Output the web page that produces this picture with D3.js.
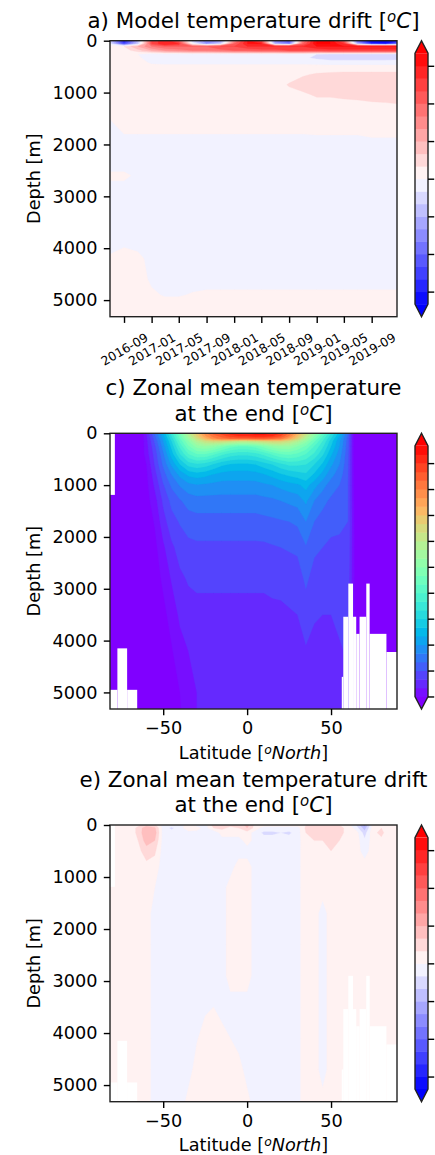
<!DOCTYPE html>
<html lang="en">
<head>
<meta charset="UTF-8">
<title>Model temperature drift</title>
<script src="https://cdn.jsdelivr.net/npm/d3@7"></script>
<style>
  body { margin: 0; background: #fff; }
  svg { display: block; font-family: "DejaVu Sans", sans-serif; }
  .axis text { font-size: 17.7px; fill: #000; font-family: "DejaVu Sans", sans-serif; }
  .axis line { stroke: #000; stroke-width: 1.4px; }
</style>
</head>
<body>
<script>
// ---------------- data ----------------
const depthTicks = [0, 1000, 2000, 3000, 4000, 5000];
const latTicks = [-50, 0, 50];
const dateTicks = ["2016-09-01", "2017-01-01", "2017-05-01", "2017-09-01", "2018-01-01",
                   "2018-05-01", "2018-09-01", "2019-01-01", "2019-05-01", "2019-09-01"];
const dateRange = ["2016-07-01", "2019-12-22"];
const latRange = [-81.7, 89.3];
const depthMax = 5320;

// contour levels and colorbar ticks
const driftLevels = [-1, -0.9, -0.8, -0.7, -0.6, -0.5, -0.4, -0.3, -0.2, -0.1, 0,
                     0.1, 0.2, 0.3, 0.4, 0.5, 0.6, 0.7, 0.8, 0.9, 1];
const driftCbTicks = [-0.9, -0.6, -0.3, 0, 0.3, 0.6, 0.9];
const tempLevels = [0, 1, 2, 3, 4, 5, 6, 7, 8, 9, 10, 11, 12, 13, 14, 15, 16, 17, 18, 19,
                    20, 21, 22, 23, 24, 25, 26, 27, 28, 29];
const tempCbTicks = [0, 3, 6, 9, 12, 15, 18, 21, 24, 27];

// a) drift vs time and depth
const driftTimes = ["2016-07-01", "2016-09-01", "2016-11-01", "2017-01-01", "2017-03-01", "2017-05-01",
                    "2017-07-01", "2017-09-01", "2017-11-01", "2018-01-01", "2018-03-01", "2018-05-01",
                    "2018-07-01", "2018-09-01", "2018-11-01", "2019-01-01", "2019-03-01", "2019-05-01",
                    "2019-07-01", "2019-09-01", "2019-11-01", "2019-12-22"];
const driftDepths = [0, 60, 110, 190, 260, 330, 420, 520, 650, 850, 1050, 1300, 1600, 2000,
                     2450, 2600, 2800, 3300, 3900, 4200, 4600, 4900, 5100, 5320];
const driftValues = [
  [-0.2,-0.9,-0.3,0.7,0.9,0.6,-0.2,-0.5,-0.4,0.4,0.9,0.7,-0.5,-0.7,0.5,1.0,1.0,0.6,-0.6,-1.1,-1.1,-0.9],
  [-0.1,-0.7,-0.2,0.7,0.9,0.8,0.0,-0.4,-0.2,0.6,0.9,0.9,-0.3,-0.5,0.6,1.0,1.0,0.8,-0.3,-0.8,-0.9,-0.6],
  [0.05,0.1,0.3,0.5,0.6,0.6,0.6,0.6,0.7,0.7,0.8,0.8,0.8,0.8,0.8,0.9,0.9,0.9,0.9,0.9,0.9,0.9],
  [0.05,0.05,0.15,0.3,0.4,0.45,0.5,0.5,0.55,0.6,0.6,0.65,0.65,0.7,0.7,0.7,0.75,0.75,0.75,0.75,0.75,0.75],
  [0.05,0.05,0.0,-0.06,-0.06,-0.06,-0.06,-0.06,-0.06,-0.06,-0.06,-0.06,-0.06,-0.06,-0.06,-0.1,-0.12,-0.12,-0.12,-0.12,-0.12,-0.12],
  [0.05,0.05,0.02,-0.06,-0.06,-0.06,-0.06,-0.06,-0.06,-0.06,-0.06,-0.06,-0.06,-0.06,-0.08,-0.12,-0.15,-0.15,-0.15,-0.15,-0.15,-0.14],
  [0.05,0.05,0.05,-0.02,-0.03,-0.03,-0.03,-0.03,-0.03,-0.03,-0.03,-0.03,-0.03,-0.03,-0.03,-0.04,-0.05,-0.05,-0.05,-0.05,-0.05,-0.05],
  [0.05,0.05,0.05,0.05,0.05,0.05,0.05,0.05,0.05,0.05,0.05,0.05,0.05,0.05,0.05,0.05,0.05,0.05,0.05,0.05,0.05,0.05],
  [0.05,0.05,0.05,0.05,0.05,0.05,0.05,0.05,0.05,0.05,0.05,0.05,0.05,0.05,0.09,0.11,0.12,0.13,0.13,0.13,0.13,0.13],
  [0.05,0.05,0.05,0.05,0.05,0.05,0.05,0.05,0.05,0.05,0.05,0.05,0.05,0.11,0.14,0.15,0.15,0.15,0.15,0.15,0.15,0.15],
  [0.05,0.05,0.05,0.05,0.05,0.05,0.05,0.05,0.05,0.05,0.05,0.05,0.05,0.06,0.08,0.11,0.11,0.12,0.13,0.14,0.14,0.14],
  [0.05,0.05,0.05,0.05,0.05,0.05,0.05,0.05,0.05,0.05,0.05,0.05,0.05,0.05,0.05,0.05,0.05,0.05,0.05,0.06,0.07,0.08],
  [-0.02,0.05,0.05,0.05,0.05,0.05,0.05,0.05,0.05,0.05,0.05,0.05,0.05,0.05,0.05,0.06,0.06,0.06,0.06,0.06,0.06,0.06],
  [-0.05,-0.05,-0.05,-0.05,-0.05,-0.05,-0.05,-0.05,-0.05,-0.05,-0.05,-0.05,-0.05,-0.05,-0.05,-0.05,-0.05,-0.05,-0.05,-0.03,-0.03,-0.03],
  [-0.05,-0.05,-0.05,-0.05,-0.05,-0.05,-0.05,-0.05,-0.05,-0.05,-0.05,-0.05,-0.05,-0.05,-0.05,-0.05,-0.05,-0.05,-0.05,-0.05,-0.05,-0.05],
  [0.05,0.05,-0.05,-0.05,-0.05,-0.05,-0.05,-0.05,-0.05,-0.05,-0.05,-0.05,-0.05,-0.05,-0.05,-0.05,-0.05,-0.05,-0.05,-0.05,-0.05,-0.05],
  [-0.05,-0.05,-0.05,-0.05,-0.05,-0.05,-0.05,-0.05,-0.05,-0.05,-0.05,-0.05,-0.05,-0.05,-0.05,-0.05,-0.05,-0.05,-0.05,-0.05,-0.05,-0.05],
  [-0.05,-0.05,-0.05,-0.05,-0.05,-0.05,-0.05,-0.05,-0.05,-0.05,-0.05,-0.05,-0.05,-0.05,-0.05,-0.05,-0.05,-0.05,-0.05,-0.05,-0.05,-0.05],
  [-0.05,-0.02,-0.05,-0.05,-0.05,-0.05,-0.05,-0.05,-0.05,-0.05,-0.05,-0.05,-0.05,-0.05,-0.05,-0.05,-0.05,-0.05,-0.05,-0.05,-0.05,-0.05],
  [0.02,0.05,0.04,-0.05,-0.05,-0.05,-0.05,-0.05,-0.05,-0.05,-0.05,-0.05,-0.05,-0.05,-0.05,-0.05,-0.05,-0.05,-0.05,-0.05,-0.05,-0.05],
  [0.05,0.05,0.05,-0.02,-0.05,-0.05,-0.05,-0.05,-0.05,-0.05,-0.05,-0.05,-0.05,-0.05,-0.05,-0.05,-0.05,-0.05,-0.05,-0.05,-0.05,-0.05],
  [0.05,0.05,0.05,0.02,-0.01,-0.01,0.01,0.025,0.025,0.025,0.025,0.025,0.025,0.025,0.025,0.025,0.025,0.025,0.025,0.025,0.025,0.025],
  [0.05,0.05,0.05,0.05,0.05,0.05,0.05,0.05,0.05,0.05,0.05,0.05,0.05,0.05,0.05,0.05,0.05,0.05,0.05,0.05,0.05,0.05],
  [0.05,0.05,0.05,0.05,0.05,0.05,0.05,0.05,0.05,0.05,0.05,0.05,0.05,0.05,0.05,0.05,0.05,0.05,0.05,0.05,0.05,0.05]
];

// c) zonal mean temperature at the end
const zonalLats = [-80, -75, -70, -65, -60, -55, -50, -45, -40, -35, -30, -25, -20, -15, -10, -5, 0,
                   5, 10, 15, 20, 25, 30, 35, 40, 45, 50, 55, 60, 65, 70, 75, 80, 85, 90];
const tempDepths = [0, 50, 100, 150, 250, 400, 600, 800, 1000, 1300, 1700, 2200, 2800, 3500, 4200, 5000, 5400];
const zonalTemp = [
  [-1.8,-1.7,-1.6,-1.5,1.0,4.0,7.0,10.5,14.0,17.5,20.5,23.5,25.5,26.5,27.5,28.0,28.0,28.5,28.5,28.0,27.0,24.8,22.0,19.0,16.0,13.0,10.0,7.5,4.0,-1.5,-1.6,-1.7,-1.7,-1.8,-1.8],
  [-1.8,-1.7,-1.6,-1.5,0.9,3.8,6.7,10.0,13.5,17.0,20.0,22.8,24.5,25.5,26.5,27.0,27.0,27.5,27.5,27.0,26.0,24.0,21.0,18.0,15.0,12.2,9.5,7.0,3.8,-1.5,-1.6,-1.7,-1.7,-1.8,-1.8],
  [-1.8,-1.7,-1.6,-1.5,0.8,3.5,6.3,9.5,13.0,16.0,19.0,21.5,23.5,24.5,25.0,25.3,25.3,25.5,25.5,25.0,24.5,22.5,20.0,17.0,14.2,11.5,9.0,6.5,3.6,-1.5,-1.6,-1.7,-1.7,-1.8,-1.8],
  [-1.8,-1.7,-1.6,-1.5,0.7,3.2,6.0,9.0,12.3,15.0,17.5,19.0,19.5,19.5,19.0,18.5,18.5,19.0,19.5,20.0,20.0,19.0,17.5,15.5,13.2,11.0,8.5,6.2,3.5,-1.5,-1.6,-1.7,-1.7,-1.8,-1.8],
  [-1.8,-1.7,-1.6,-1.4,0.6,2.8,5.5,8.3,11.3,13.8,15.5,16.0,15.5,14.5,13.5,13.0,13.0,13.5,14.5,15.5,16.0,16.0,15.0,13.8,12.0,10.2,8.0,6.0,3.4,-1.5,-1.6,-1.7,-1.7,-1.8,-1.8],
  [-1.8,-1.7,-1.5,-1.3,0.5,2.4,4.8,7.5,10.0,12.0,13.0,13.0,12.2,11.3,10.6,10.3,10.3,10.6,11.3,12.2,13.0,13.2,12.8,12.0,10.8,9.2,7.2,5.5,3.3,-1.5,-1.5,-1.6,-1.7,-1.8,-1.8],
  [-1.8,-1.7,-1.4,-1.2,0.0,2.1,4.2,6.2,8.0,9.4,9.8,9.5,8.9,8.2,7.9,7.8,7.8,8.0,8.5,9.0,9.7,10.2,10.2,10.0,9.0,7.8,6.2,5.0,3.2,-1.4,-1.4,-1.5,-1.6,-1.7,-1.7],
  [-1.8,-1.7,-1.3,-1.1,-0.2,1.6,3.5,5.0,6.3,7.2,7.5,7.3,6.9,6.6,6.5,6.5,6.5,6.6,6.9,7.3,7.8,8.2,8.5,8.8,7.8,6.6,5.3,4.5,3.1,-1.3,-1.3,-1.4,-1.5,-1.6,-1.6],
  [-1.7,-1.6,-1.2,-1.0,-0.3,1.2,2.9,4.2,5.1,5.7,5.9,5.8,5.7,5.6,5.6,5.6,5.6,5.6,5.8,6.0,6.3,6.6,6.8,7.4,6.4,5.4,4.5,4.0,3.0,-1.2,-1.2,-1.3,-1.4,-1.5,-1.5],
  [-1.6,-1.5,-1.1,-0.9,-0.4,0.6,2.2,3.3,3.9,4.4,4.6,4.6,4.6,4.6,4.6,4.6,4.6,4.6,4.7,4.8,5.0,5.2,5.4,6.2,5.0,4.3,3.8,3.6,3.0,-1.1,-1.1,-1.2,-1.3,-1.4,-1.4],
  [-1.5,-1.4,-1.0,-0.8,-0.6,0.1,1.6,2.6,3.1,3.5,3.6,3.6,3.6,3.6,3.6,3.6,3.6,3.6,3.7,3.8,3.9,4.0,4.2,5.0,4.0,3.6,3.3,3.2,3.0,-1.0,-1.0,-1.0,-1.1,-1.2,-1.2],
  [-1.4,-1.3,-1.0,-0.7,-0.5,-0.3,0.8,1.8,2.4,2.7,2.8,2.8,2.8,2.8,2.8,2.8,2.8,2.8,2.8,2.9,3.0,3.1,3.2,3.9,3.2,3.0,2.8,2.8,2.8,-0.9,-0.9,-0.9,-1.0,-1.0,-1.0],
  [-1.3,-1.2,-0.9,-0.7,-0.6,-0.5,0.2,1.1,1.8,2.1,2.2,2.2,2.2,2.2,2.2,2.2,2.2,2.2,2.2,2.3,2.3,2.4,2.5,3.2,2.6,2.4,2.3,2.5,2.6,-0.8,-0.8,-0.8,-0.9,-0.9,-0.9],
  [-1.2,-1.1,-0.8,-0.7,-0.6,-0.5,-0.3,0.4,1.2,1.6,1.7,1.7,1.7,1.7,1.7,1.7,1.7,1.7,1.7,1.75,1.8,1.9,2.0,2.5,2.1,2.0,2.0,2.2,2.4,-0.7,-0.7,-0.7,-0.8,-0.8,-0.8],
  [-1.1,-1.0,-0.8,-0.7,-0.6,-0.5,-0.4,-0.1,0.6,1.0,1.2,1.2,1.2,1.2,1.2,1.2,1.2,1.25,1.3,1.35,1.4,1.5,1.6,1.9,1.7,1.6,1.7,1.9,2.1,-0.6,-0.6,-0.7,-0.7,-0.7,-0.7],
  [-1.0,-0.9,-0.8,-0.7,-0.6,-0.5,-0.4,-0.3,0.0,0.6,1.0,1.1,1.1,1.1,1.1,1.1,1.1,1.1,1.15,1.2,1.25,1.3,1.4,1.6,1.5,1.5,1.6,1.8,2.0,-0.6,-0.6,-0.6,-0.6,-0.6,-0.6],
  [-1.0,-0.9,-0.8,-0.7,-0.6,-0.5,-0.4,-0.3,-0.1,0.5,1.0,1.1,1.1,1.1,1.1,1.1,1.1,1.1,1.15,1.2,1.25,1.3,1.4,1.6,1.5,1.5,1.6,1.8,2.0,-0.6,-0.6,-0.6,-0.6,-0.6,-0.6]
];

// e) zonal mean temperature drift at the end
const zDriftDepths = [0, 60, 150, 300, 500, 800, 1200, 1700, 2300, 2900, 3500, 4100, 4700, 5400];
const zonalDrift = [
  [0.05,0.05,0.05,0.08,0.15,0.12,-0.05,-0.05,-0.05,0.05,-0.05,-0.05,0.15,0.2,0.12,0.1,0.25,0.05,0.05,0.05,0.05,0.05,0.05,0.1,0.12,0.1,0.12,0.1,0.05,-0.1,-0.35,0.05,0.05,0.05,0.05],
  [0.05,0.05,0.05,0.12,0.28,0.22,-0.05,-0.12,-0.05,0.08,0.05,-0.05,0.1,0.12,0.08,0.1,0.2,0.05,-0.05,-0.05,-0.05,-0.05,-0.05,0.12,0.15,0.15,0.15,0.12,0.08,-0.05,-0.25,0.06,0.1,0.05,0.05],
  [0.05,0.05,0.05,0.12,0.3,0.25,-0.05,-0.05,-0.05,-0.05,-0.05,-0.05,-0.1,0.05,0.05,0.05,0.05,-0.05,-0.12,-0.12,-0.1,-0.12,-0.05,0.1,0.12,0.12,0.15,0.12,0.08,0.05,-0.15,0.08,0.12,0.05,0.05],
  [0.05,0.05,0.05,0.1,0.25,0.2,-0.05,-0.05,-0.05,-0.05,-0.05,-0.05,-0.05,-0.05,-0.05,-0.05,0.05,-0.05,-0.05,-0.05,-0.05,-0.05,-0.05,0.08,0.1,0.1,0.12,0.1,0.05,0.05,-0.08,0.05,0.08,0.05,0.05],
  [0.05,0.05,0.05,0.07,0.15,0.12,-0.05,-0.05,-0.05,-0.05,-0.05,-0.05,-0.05,-0.05,-0.05,-0.05,-0.05,-0.05,-0.05,-0.05,-0.05,-0.05,-0.03,0.05,0.06,0.08,0.1,0.08,0.05,0.05,-0.05,0.05,0.05,0.05,0.05],
  [0.05,0.05,0.05,0.05,0.07,0.05,-0.05,-0.05,-0.05,-0.05,-0.05,-0.05,-0.05,-0.05,-0.05,0.05,0.05,-0.05,-0.05,-0.05,-0.05,-0.05,-0.03,0.05,0.05,0.05,0.06,0.05,0.05,0.05,0.05,0.05,0.05,0.05,0.05],
  [0.05,0.05,0.05,0.05,0.05,0.0,-0.05,-0.05,-0.05,-0.05,-0.05,-0.05,-0.05,-0.05,0.05,0.05,0.05,-0.05,-0.05,-0.05,-0.05,-0.05,-0.03,0.05,0.05,0.05,0.05,0.05,0.05,0.05,0.05,0.05,0.05,0.05,0.05],
  [0.05,0.05,0.05,0.05,0.05,-0.05,-0.05,-0.05,-0.05,-0.05,-0.05,-0.05,-0.05,-0.05,0.05,0.05,0.05,-0.05,-0.05,-0.05,-0.05,-0.05,-0.03,0.05,0.05,-0.05,0.05,0.05,0.05,0.05,0.05,0.05,0.05,0.05,0.05],
  [0.05,0.05,0.05,0.05,0.05,-0.05,-0.05,-0.05,-0.05,-0.05,-0.05,-0.05,-0.05,-0.05,0.05,0.05,0.05,-0.05,-0.05,-0.05,-0.05,-0.05,-0.03,0.05,0.05,-0.05,0.05,0.05,0.05,0.05,0.05,0.05,0.05,0.05,0.05],
  [0.05,0.05,0.05,0.05,0.05,-0.05,-0.05,-0.05,-0.05,-0.05,-0.05,-0.05,-0.05,-0.05,0.05,0.05,0.05,-0.05,-0.05,-0.05,-0.05,-0.05,-0.03,0.05,0.05,-0.05,0.05,0.05,0.05,0.05,0.05,0.05,0.05,0.05,0.05],
  [0.05,0.05,0.05,0.05,0.05,-0.05,-0.05,-0.05,-0.05,-0.05,-0.05,-0.02,0.0,-0.05,-0.05,-0.05,-0.05,-0.05,-0.05,-0.05,-0.05,-0.05,-0.03,0.05,0.05,-0.05,0.05,0.05,0.05,0.05,0.05,0.05,0.05,0.05,0.05],
  [0.05,0.05,0.05,0.05,0.05,-0.05,-0.05,-0.05,-0.05,-0.05,-0.01,0.05,0.05,0.05,0.0,-0.05,-0.05,-0.05,-0.05,-0.05,-0.05,-0.05,-0.03,0.05,0.05,-0.05,0.05,0.05,0.05,0.05,0.05,0.05,0.05,0.05,0.05],
  [0.05,0.05,0.05,0.05,0.05,-0.05,-0.05,-0.05,-0.05,-0.05,0.05,0.05,0.05,0.05,0.05,0.05,-0.05,-0.05,-0.05,-0.05,-0.05,-0.05,-0.03,0.05,0.05,-0.05,0.05,0.05,0.05,0.05,0.05,0.05,0.05,0.05,0.05],
  [0.05,0.05,0.05,0.05,0.05,-0.05,-0.05,-0.05,-0.05,0.05,0.05,0.05,0.05,0.05,0.05,0.05,0.05,-0.05,-0.05,-0.05,-0.05,-0.05,-0.03,0.05,0.05,0.05,0.05,0.05,0.05,0.05,0.05,0.05,0.05,0.05,0.05]
];

// no-ocean (masked) boxes for the zonal sections
const landLat0 = [-81.7, -81.7, -77.3, -71.5, 56.4, 57.3, 60.3, 63.1, 65, 67, 71, 73, 83];
const landLat1 = [-78.8, -77.3, -71.5, -65.5, 57.3, 60.3, 63.1, 65, 67, 71, 73, 83, 89.3];
const landTop = [0, 4950, 4150, 4950, 4700, 3540, 2900, 3540, 3870, 3540, 2900, 3870, 4220];
const landBottom = [1150, 5320, 5320, 5320, 5320, 5320, 5320, 5320, 5320, 5320, 5320, 5320, 5320];

// ---------------- layout ----------------
const W = 435, H = 1155;
const plotL = 110, plotR = 397, midX = 253.5;
const cbX = 415, cbW = 13;
const titleSize = 21.4, labelSize = 17.7, tickSize = 6.2, tickPad = 6.2;

const svg = d3.select("body").append("svg").attr("width", W).attr("height", H);

const bwr = d3.scaleLinear().domain([-1, 0, 1]).range(["#0000ff", "#ffffff", "#ff0000"]);
const rainbowInterp = t => d3.rgb(255 * Math.min(1, Math.abs(2 * t - 0.5)),
                                  255 * Math.sin(Math.PI * t),
                                  255 * Math.cos(Math.PI * t / 2)).toString();
const rainbow = d3.scaleSequential(rainbowInterp).domain([0, 29]);

// text like "prefix [°unit]" with an italic superscript o; optional first line above it
function unitText(x, y, size, prefix, unit, firstLine) {
  const t = svg.append("text").attr("x", x).attr("y", y).attr("text-anchor", "middle")
    .attr("font-size", size).attr("fill", "#000");
  if (firstLine) {
    t.append("tspan").attr("x", x).text(firstLine);
    t.append("tspan").attr("x", x).attr("dy", 25.6).text(prefix);
  } else {
    t.append("tspan").text(prefix);
  }
  t.append("tspan").attr("font-style", "italic").attr("font-size", size * 0.7)
    .attr("dy", -size * 0.28).text("o");
  t.append("tspan").attr("font-style", "italic").attr("dy", size * 0.28).text(unit);
  t.append("tspan").text("]");
  return t;
}

function contourField(id, xsPx, ysPx, grid, levels, layerColor, over, under, top, bottom) {
  svg.append("clipPath").attr("id", id).append("rect")
    .attr("x", plotL).attr("y", top).attr("width", plotR - plotL).attr("height", bottom - top);
  const layer = svg.append("g").attr("clip-path", `url(#${id})`);
  const n = xsPx.length, m = ysPx.length;
  const fx = d3.scaleLinear().domain(d3.range(n).map(i => i + 0.5)).range(xsPx);
  const fy = d3.scaleLinear().domain(d3.range(m).map(j => j + 0.5)).range(ysPx);
  const path = d3.geoPath(d3.geoTransform({
    point(px, py) { this.stream.point(fx(px), fy(py)); }
  }));
  const cs = d3.contours().size([n, m]).thresholds(levels)(grid.flat());
  layer.append("rect").attr("x", plotL).attr("y", top)
    .attr("width", plotR - plotL).attr("height", bottom - top).attr("fill", under);
  layer.selectAll("path").data(cs).join("path")
    .attr("d", path)
    .attr("fill", (d, i) => i < levels.length - 1 ? layerColor(i) : over)
    .attr("stroke", (d, i) => i < levels.length - 1 ? layerColor(i) : over)
    .attr("stroke-width", 0.3);
  return layer;
}

function colorbar(top, bottom, levels, layerColor, over, under, ticks) {
  const inner = (bottom - top) / 1.1, ext = inner * 0.05;
  const y0 = bottom - ext, y1 = top + ext;
  const cs = d3.scaleLinear().domain([levels[0], levels[levels.length - 1]]).range([y0, y1]);
  const g = svg.append("g");
  g.selectAll("rect").data(levels.slice(0, -1)).join("rect")
    .attr("x", cbX).attr("width", cbW)
    .attr("y", (d, i) => cs(levels[i + 1]))
    .attr("height", (d, i) => cs(levels[i]) - cs(levels[i + 1]) + 0.5)
    .attr("fill", (d, i) => layerColor(i));
  g.append("path").attr("d", `M${cbX},${y1}L${cbX + cbW / 2},${top}L${cbX + cbW},${y1}Z`).attr("fill", over);
  g.append("path").attr("d", `M${cbX},${y0}L${cbX + cbW / 2},${bottom}L${cbX + cbW},${y0}Z`).attr("fill", under);
  g.append("path")
    .attr("d", `M${cbX},${y1}L${cbX + cbW / 2},${top}L${cbX + cbW},${y1}L${cbX + cbW},${y0}` +
               `L${cbX + cbW / 2},${bottom}L${cbX},${y0}Z`)
    .attr("fill", "none").attr("stroke", "#222").attr("stroke-width", 1.4);
  const ax = g.append("g").attr("class", "axis").attr("transform", `translate(${cbX + cbW},0)`)
    .call(d3.axisRight(cs).tickValues(ticks).tickSize(tickSize).tickFormat(""));
  ax.select(".domain").remove();
}

function depthAxis(y, top, bottom) {
  const ax = svg.append("g").attr("class", "axis").attr("transform", `translate(${plotL},0)`)
    .call(d3.axisLeft(y).tickValues(depthTicks).tickFormat(d3.format("d"))
      .tickSize(tickSize).tickPadding(tickPad));
  ax.attr("font-size", null).attr("font-family", null);
  ax.select(".domain").remove();
  svg.append("text").attr("transform", `translate(34,${(top + bottom) / 2}) rotate(-90)`)
    .attr("text-anchor", "middle").attr("dy", "0.35em").attr("font-size", labelSize).text("Depth [m]");
}

function frame(top, bottom) {
  svg.append("rect").attr("x", plotL).attr("y", top).attr("width", plotR - plotL)
    .attr("height", bottom - top).attr("fill", "none").attr("stroke", "#222").attr("stroke-width", 1.4);
}

const driftColor = levels => i => bwr((levels[i] + levels[i + 1]) / 2);
const tempColor = levels => i => rainbow((levels[i] + levels[i + 1]) / 2);

// ---------------- panel a ----------------
{
  const top = 40.7, bottom = 316.7;
  const x = d3.scaleTime().domain(dateRange.map(d => new Date(d))).range([plotL, plotR]);
  const y = d3.scaleLinear().domain([0, depthMax]).range([top, bottom]);
  contourField("clipA", driftTimes.map(d => x(new Date(d))), driftDepths.map(y),
    driftValues, driftLevels, driftColor(driftLevels), "#ff0000", "#0000ff", top, bottom);
  frame(top, bottom);
  depthAxis(y, top, bottom);
  const ax = svg.append("g").attr("class", "axis").attr("transform", `translate(0,${bottom})`)
    .call(d3.axisBottom(x).tickValues(dateTicks.map(d => new Date(d)))
      .tickFormat(d3.timeFormat("%Y-%m")).tickSize(tickSize));
  ax.attr("font-size", null).attr("font-family", null);
  ax.select(".domain").remove();
  ax.selectAll("text").attr("y", 0).attr("dy", "0.35em").attr("text-anchor", "middle")
    .attr("transform", "translate(0,32.5) rotate(-30)").style("font-size", "12.4px");
  colorbar(top, bottom, driftLevels, driftColor(driftLevels), "#ff0000", "#0000ff", driftCbTicks);
  unitText(midX, 28, titleSize, "a) Model temperature drift [", "C");
}

function latPanel(top, bottom, depths, grid, levels, layerColor, over, under, clipId, titleLine, cbTicks) {
  const x = d3.scaleLinear().domain(latRange).range([plotL, plotR]);
  const y = d3.scaleLinear().domain([0, depthMax]).range([top, bottom]);
  const layer = contourField(clipId, zonalLats.map(x), depths.map(y),
    grid, levels, layerColor, over, under, top, bottom);
  layer.selectAll("rect.land").data(landLat0).join("rect").attr("class", "land")
    .attr("x", (d, i) => x(landLat0[i])).attr("width", (d, i) => x(landLat1[i]) - x(landLat0[i]))
    .attr("y", (d, i) => y(landTop[i])).attr("height", (d, i) => y(landBottom[i]) - y(landTop[i]) + 2)
    .attr("fill", "#ffffff");
  frame(top, bottom);
  depthAxis(y, top, bottom);
  const ax = svg.append("g").attr("class", "axis").attr("transform", `translate(0,${bottom})`)
    .call(d3.axisBottom(x).tickValues(latTicks).tickSize(tickSize).tickPadding(tickPad));
  ax.attr("font-size", null).attr("font-family", null);
  ax.select(".domain").remove();
  unitText(midX, bottom + 49.5, labelSize, "Latitude [", "North");
  colorbar(top, bottom, levels, layerColor, over, under, cbTicks);
  unitText(midX, top - 38.4, titleSize, "at the end [", "C", titleLine);
}

// ---------------- panel c ----------------
latPanel(433.3, 709, tempDepths, zonalTemp, tempLevels, tempColor(tempLevels), rainbow(29), rainbow(0),
  "clipC", "c) Zonal mean temperature", tempCbTicks);

// ---------------- panel e ----------------
latPanel(825, 1101.7, zDriftDepths, zonalDrift, driftLevels, driftColor(driftLevels), "#ff0000", "#0000ff",
  "clipE", "e) Zonal mean temperature drift", driftCbTicks);
</script>
</body>
</html>
